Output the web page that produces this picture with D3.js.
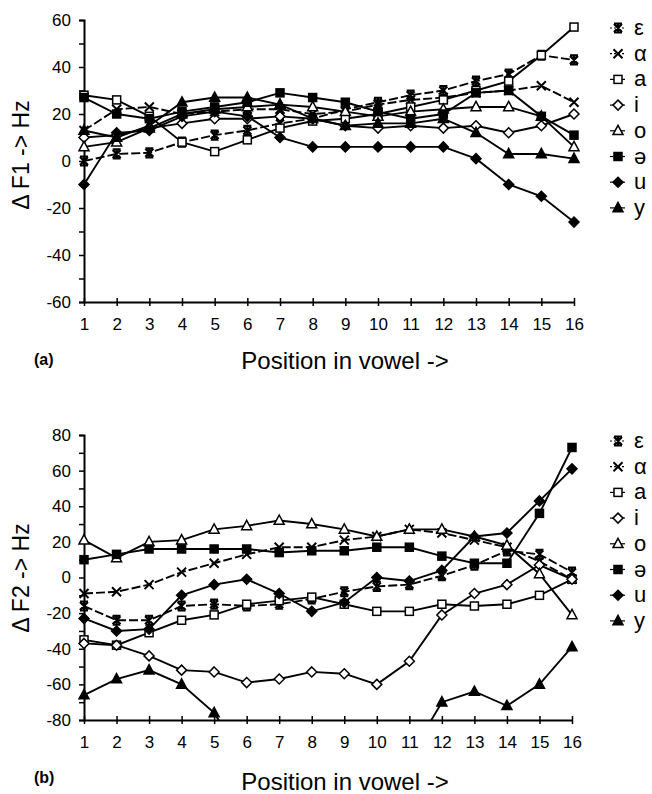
<!DOCTYPE html>
<html>
<head>
<meta charset="utf-8">
<script src="https://cdn.jsdelivr.net/npm/d3@7"></script>
<style>
  body { margin: 0; background: #fff; }
  svg { font-family: "Liberation Sans", Arial, "DejaVu Sans", sans-serif; }
</style>
</head>
<body>
<svg id="chart" width="652" height="794"></svg>
<script>
// positions along the vowel
const positions = [1, 2, 3, 4, 5, 6, 7, 8, 9, 10, 11, 12, 13, 14, 15, 16]
const vowels = ["ε", "α", "a", "i", "o", "ə", "u", "y"]
const f1Ticks = [-60, -40, -20, 0, 20, 40, 60]
const f2Ticks = [-80, -60, -40, -20, 0, 20, 40, 60, 80]

// (a) delta F1
const f1_e     = [0, 3, 3.5, 8, 11, 13, 16, 18, 22, 25, 28, 30, 34, 37, 45, 43]
const f1_alpha = [13, 22, 23, 20, 21, 22, 22, 20, 21, 24, 26, 27, 29, 30, 32, 25]
const f1_a     = [28, 26, 19, 8, 4, 9, 14, 17, 18, 20, 23, 26, 30, 34, 45, 57]
const f1_i     = [10, 11, 14, 16, 18, 18, 19, 18, 15, 14, 15, 14, 15, 12, 15, 20]
const f1_o     = [6, 8, 14, 20, 22, 23, 24, 23, 21, 19, 21, 22, 23, 23, 19, 6]
const f1_schwa = [27, 20, 18, 21, 23, 25, 29, 27, 25, 21, 18, 20, 29, 30, 19, 11]
const f1_u     = [-10, 12, 13, 19, 21, 19, 10, 6, 6, 6, 6, 6, 1, -10, -15, -26]
const f1_y     = [13, 10, 15, 25, 27, 27, 24, 18, 15, 16, 16, 18, 12, 3, 3, 1]

// (b) delta F2
const f2_e     = [-16, -24, -24, -16, -15, -16, -15, -12, -8, -5, -4, 1, 7, 15, 13, 3]
const f2_alpha = [-9, -8, -4, 3, 8, 13, 17, 17, 21, 23, 27, 25, 21, 17, 9, -1]
const f2_a     = [-35, -38, -31, -24, -21, -15, -13, -11, -15, -19, -19, -15, -16, -15, -10, -1]
const f2_i     = [-37, -38, -44, -52, -53, -59, -57, -53, -54, -60, -47, -21, -9, -4, 7, -1]
const f2_o     = [21, 11, 20, 21, 27, 29, 32, 30, 27, 23, 27, 27, 23, 18, 2, -21]
const f2_schwa = [10, 13, 16, 16, 16, 16, 14, 15, 15, 17, 17, 12, 8, 8, 36, 73]
const f2_u     = [-23, -30, -29, -10, -4, -1, -9, -19, -14, 0, -2, 4, 23, 25, 43, 61]
const f2_y     = [-66, -57, -52, -60, -76, -105, -112, -115, -112, -106, -101, -70, -64, -72, -60, -39]

const markers = ["star", "x", "square", "diamond", "triangle", "square", "diamond", "triangle"]
const filled  = [false, false, false, false, false, true, true, true]
const dashed  = [true, true, false, false, false, false, false, false]

const svg = d3.select("#chart")

function drawMarker(g, type, fill, cx, cy) {
	const s = g.append("g").attr("transform", "translate(" + cx + "," + cy + ")")
	const fc = fill ? "black" : "white"
	if (type == "star") {
		s.append("path").attr("d", "M-4,-4L4,4M-4,4L4,-4M0,-5L0,5M-4,-4.5L4,-4.5M-4,4.5L4,4.5")
			.attr("stroke", "black").attr("stroke-width", 2.2).attr("fill", "none")
	} else if (type == "x") {
		s.append("path").attr("d", "M-4.5,-4.5L4.5,4.5M-4.5,4.5L4.5,-4.5")
			.attr("stroke", "black").attr("stroke-width", 2).attr("fill", "none")
	} else if (type == "square") {
		s.append("rect").attr("x", -4).attr("y", -4).attr("width", 8).attr("height", 8)
			.attr("fill", fc).attr("stroke", "black").attr("stroke-width", 1.5)
	} else if (type == "diamond") {
		s.append("path").attr("d", "M0,-5L5,0L0,5L-5,0Z")
			.attr("fill", fc).attr("stroke", "black").attr("stroke-width", 1.5)
	} else if (type == "triangle") {
		s.append("path").attr("d", "M0,-5.5L5,3.8L-5,3.8Z")
			.attr("fill", fc).attr("stroke", "black").attr("stroke-width", 1.5)
	}
}

function panel(opts) {
	const x = d3.scaleLinear().domain([1, 16]).range([opts.left, opts.right])
	const y = d3.scaleLinear().domain(opts.domain).range([opts.bottom, opts.top])
	const g = svg.append("g")

	const clipId = "clip" + opts.id
	svg.append("clipPath").attr("id", clipId)
		.append("rect")
		.attr("x", opts.left - 1).attr("y", opts.top - 6)
		.attr("width", opts.right - opts.left + 8).attr("height", opts.bottom - opts.top + 6)

	// y axis
	const minor = d3.range(opts.domain[0], opts.domain[1] + 1, 10)
	g.append("g")
		.attr("transform", "translate(" + opts.left + ",0)")
		.call(d3.axisLeft(y).tickValues(minor).tickSize(5).tickPadding(8)
			.tickFormat(d => opts.ticks.includes(d) ? d : ""))
		.call(a => a.select(".domain").attr("stroke-width", 2))
		.call(a => a.selectAll(".tick line").attr("stroke-width", 1.5))
		.call(a => a.selectAll("text").attr("font-size", 17).attr("fill", "black"))

	// x axis
	g.append("g")
		.attr("transform", "translate(0," + opts.bottom + ")")
		.call(d3.axisBottom(x).tickValues(positions).tickSize(4).tickSizeOuter(0).tickPadding(12))
		.call(a => a.select(".domain").attr("stroke-width", 2))
		.call(a => a.selectAll(".tick line").attr("y1", -4).attr("stroke-width", 1.5))
		.call(a => a.selectAll("text").attr("font-size", 17).attr("fill", "black"))

	// series
	opts.series.forEach(function(vals, k) {
		const line = d3.line().x((d, i) => x(positions[i])).y(d => y(d))
		g.append("path")
			.datum(vals)
			.attr("clip-path", "url(#" + clipId + ")")
			.attr("d", line)
			.attr("fill", "none")
			.attr("stroke", "black")
			.attr("stroke-width", 1.9)
			.attr("stroke-dasharray", dashed[k] ? "9,3" : null)
	})
	opts.series.forEach(function(vals, k) {
		vals.forEach(function(v, i) {
			if (v >= opts.domain[0] && v <= opts.domain[1]) {
				drawMarker(g, markers[k], filled[k], x(positions[i]), y(v))
			}
		})
	})

	// axis titles
	g.append("text")
		.attr("transform", "translate(" + 29 + "," + opts.titleY + ") rotate(-90)")
		.attr("text-anchor", "middle")
		.attr("font-size", 23)
		.text(opts.yTitle)

	g.append("text")
		.attr("x", 345).attr("y", opts.xTitleY)
		.attr("text-anchor", "middle")
		.attr("font-size", 24)
		.text("Position in vowel ->")

	g.append("text")
		.attr("x", 34).attr("y", opts.bottom + 63)
		.attr("font-size", 16)
		.attr("font-weight", "bold")
		.text(opts.tag)

	// legend
	vowels.forEach(function(v, k) {
		const ly = opts.legendTop + k * 25.7
		g.append("line")
			.attr("x1", 610).attr("x2", 625).attr("y1", ly).attr("y2", ly)
			.attr("stroke", "black").attr("stroke-width", 1.2)
			.attr("stroke-dasharray", dashed[k] ? "2,2" : null)
		drawMarker(g, markers[k], filled[k], 618, ly)
		g.append("text")
			.attr("x", 634).attr("y", ly + 7)
			.attr("font-size", 22)
			.text(v)
	})
}

panel({
	id: "a", left: 84, right: 574, top: 20, bottom: 302,
	domain: [-60, 60], ticks: f1Ticks,
	series: [f1_e, f1_alpha, f1_a, f1_i, f1_o, f1_schwa, f1_u, f1_y],
	yTitle: "Δ F1 -> Hz", titleY: 155, xTitleY: 369, tag: "(a)", legendTop: 28
})

panel({
	id: "b", left: 84, right: 572, top: 435, bottom: 720,
	domain: [-80, 80], ticks: f2Ticks,
	series: [f2_e, f2_alpha, f2_a, f2_i, f2_o, f2_schwa, f2_u, f2_y],
	yTitle: "Δ F2 -> Hz", titleY: 578, xTitleY: 790, tag: "(b)", legendTop: 441
})
</script>
</body>
</html>
